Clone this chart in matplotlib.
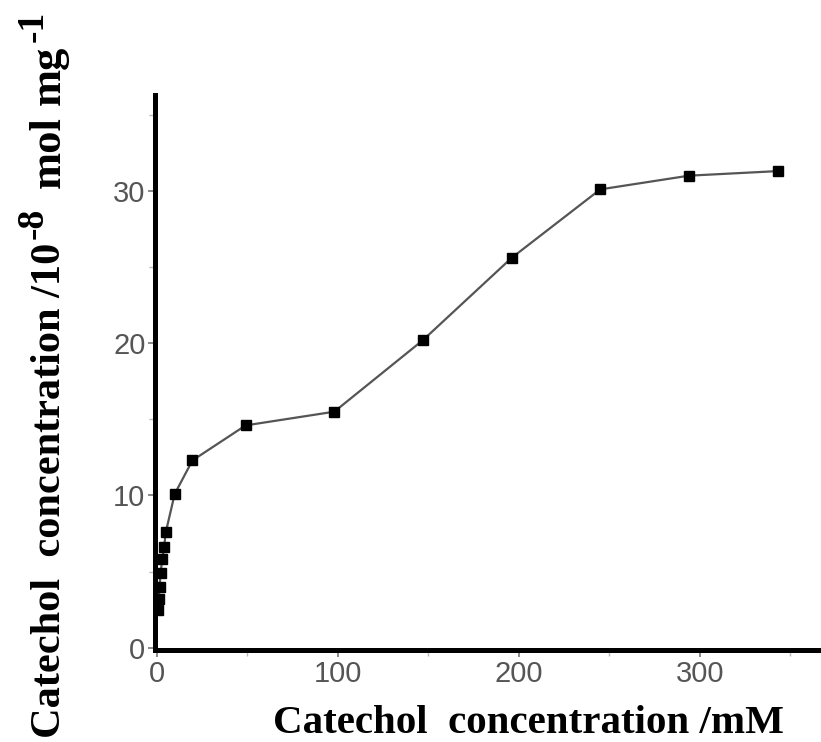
import matplotlib.pyplot as plt
from matplotlib.ticker import MultipleLocator

# catechol added (mM) vs. amount adsorbed (1e-8 mol per mg)
conc_mM = [0.49, 0.98, 1.47, 1.96, 2.94, 3.92, 4.9, 9.8, 19.6,
           49, 98, 147, 196, 245, 294, 343]
adsorbed = [2.5, 3.2, 4.0, 4.9, 5.8, 6.6, 7.6, 10.1, 12.3,
            14.6, 15.5, 20.2, 25.6, 30.1, 31.0, 31.3]

x_ticks = [0, 100, 200, 300]
y_ticks = [0, 10, 20, 30]

W, H = 821, 742
fig = plt.figure(figsize=(W / 100, H / 100), dpi=100)
ax = fig.add_axes([0.189, 0.124, 0.811, 0.748])

ax.plot(conc_mM, adsorbed, color='#555555', linewidth=1.6,
        marker='s', markersize=7.5, markerfacecolor='black',
        markeredgecolor='black', zorder=3)

ax.set_xlim(-1, 367)
ax.set_ylim(-0.15, 36.3)
ax.set_xticks(x_ticks)
ax.set_yticks(y_ticks)
ax.xaxis.set_minor_locator(MultipleLocator(50))
ax.yaxis.set_minor_locator(MultipleLocator(5))

for side in ['top', 'right']:
    ax.spines[side].set_visible(False)
for side in ['left', 'bottom']:
    ax.spines[side].set_linewidth(3.6)
    ax.spines[side].set_color('black')

ax.tick_params(which='major', length=5, width=1.2, color='#777777',
               labelcolor='#555555', labelsize=21, pad=2)
ax.tick_params(which='minor', length=4, width=1.0, color='#bbbbbb')
for lab in ax.get_xticklabels() + ax.get_yticklabels():
    lab.set_family('Liberation Sans')

serif = dict(family='Liberation Serif', fontweight='bold', color='black')

fig.text(0.644, 1 - 733 / H, 'Catechol  concentration /mM',
         ha='center', va='baseline', fontsize=29.5, **serif)

# y label built piece by piece so the exponents stay large like the original
renderer = fig.canvas.get_renderer()
pieces = [  # text, size, raise (px), gap after (px)
    ('Catechol  concentration /10', 30.5, 0, 4),
    ('-8', 27, 17, 19),
    ('mol', 32, 0, 12),
    ('mg', 32, 0, 3),
    ('-1', 27, 17, 0),
]
base_x, pos_y = 60, 738
for txt, size, lift, gap in pieces:
    t = fig.text((base_x - lift) / W, 1 - pos_y / H, txt, fontsize=size,
                 rotation=90, rotation_mode='anchor', ha='left',
                 va='baseline', **serif)
    pos_y -= t.get_window_extent(renderer=renderer).height + gap

fig.savefig('out.png', dpi=100, facecolor='white')
